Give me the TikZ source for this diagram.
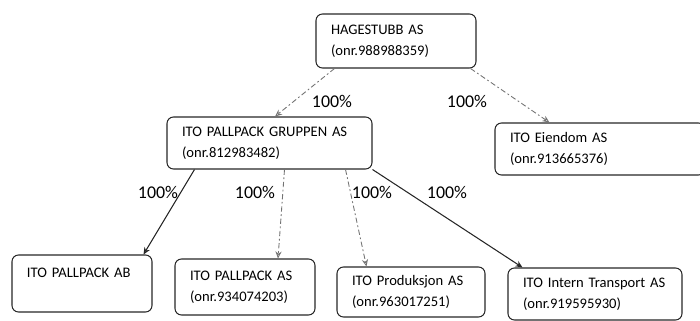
\documentclass[tikz,border=0pt]{standalone}
\usepackage{fontspec}
\setmainfont{Carlito}
\usetikzlibrary{arrows.meta}
\tikzset{
  firm/.style={draw=black!85, line width=0.6pt, rounded corners=0.13cm, align=left,
    inner xsep=0.3cm, inner ysep=0pt, font=\fontsize{8.3}{12}\selectfont},
  share/.style={font=\fontsize{10.2}{12}\selectfont},
  owns/.style={->, draw=black!55, line width=0.5pt, dash pattern=on 3pt off 1.5pt on 1pt off 1.5pt},
  ownsfull/.style={->, draw=black!85, line width=0.6pt}
}
\begin{document}
\begin{tikzpicture}[>={Stealth[length=4pt,width=3.5pt,open]}]
\useasboundingbox (0,0) rectangle (14,6.4);
\node[firm, text width=2.6cm, minimum height=1.08cm] (hag) at (7.92,5.58) {HAGESTUBB AS\\(onr.988988359)};
\node[firm, text width=3.5cm, minimum height=1.04cm] (grp) at (5.39,3.54) {ITO PALLPACK GRUPPEN AS\\(onr.812983482)};
\node[firm, text width=3.6cm, minimum height=1.04cm] (eie) at (12.0,3.42) {ITO Eiendom AS\\(onr.913665376)};
\node[firm, text width=2.2cm, minimum height=1.14cm] (ab) at (1.64,0.73) {ITO PALLPACK AB\\\mbox{}};
\node[firm, text width=2.2cm, minimum height=1.12cm] (as) at (4.9,0.66) {ITO PALLPACK AS\\(onr.934074203)};
\node[firm, text width=2.36cm, minimum height=1.0cm] (prod) at (8.22,0.56) {ITO Produksjon AS\\(onr.963017251)};
\node[firm, text width=2.88cm, minimum height=1.04cm] (int) at (11.9,0.52) {ITO Intern Transport AS\\(onr.919595930)};
% eierandeler
\draw[owns] ([xshift=0.38cm]hag.south west) -- ([xshift=0.11cm]grp.north);
\draw[owns] ([xshift=-0.12cm]hag.south east) -- ([xshift=1.1cm]eie.north west);
\draw[ownsfull] ([xshift=0.56cm]grp.south west) -- ([xshift=-0.18cm]ab.north east);
\draw[owns] ([xshift=0.3cm]grp.south) -- ([xshift=0.66cm]as.north);
\draw[owns] ([xshift=-0.54cm]grp.south east) -- ([xshift=0.6cm]prod.north west);
\draw[ownsfull] (grp.south east) -- ([xshift=0.3cm]int.north west);
\node[share] (p1) at (6.64,4.38) {100\%};
\node[share] (p2) at (9.34,4.38) {100\%};
\node[share] (p3) at (3.16,2.56) {100\%};
\node[share] (p4) at (5.1,2.56) {100\%};
\node[share] (p5) at (7.44,2.56) {100\%};
\node[share] (p6) at (8.94,2.56) {100\%};
\end{tikzpicture}
\end{document}
